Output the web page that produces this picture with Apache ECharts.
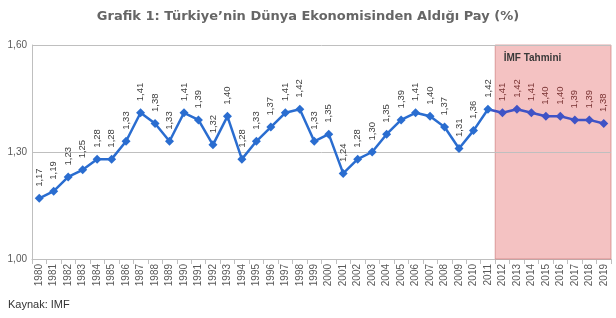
<!DOCTYPE html>
<html>
<head>
<meta charset="utf-8">
<script src="https://cdn.jsdelivr.net/npm/echarts@6/dist/echarts.min.js"></script>
<style>html,body{margin:0;padding:0;background:#fff}#c{width:616px;height:318px}</style>
</head>
<body>
<div id="c"></div>
<script>
var categories = ['1980','1981','1982','1983','1984','1985','1986','1987','1988','1989',
  '1990','1991','1992','1993','1994','1995','1996','1997','1998','1999',
  '2000','2001','2002','2003','2004','2005','2006','2007','2008','2009',
  '2010','2011','2012','2013','2014','2015','2016','2017','2018','2019'];
var actualValues = [1.17,1.19,1.23,1.25,1.28,1.28,1.33,1.41,1.38,1.33,
  1.41,1.39,1.32,1.40,1.28,1.33,1.37,1.41,1.42,1.33,
  1.35,1.24,1.28,1.30,1.35,1.39,1.41,1.40,1.37,1.31,
  1.36,1.42];
var forecastYears = ['2012','2013','2014','2015','2016','2017','2018','2019'];
var forecastValues = [1.41,1.42,1.41,1.40,1.40,1.39,1.39,1.38];
var yTicks = [1.00, 1.30, 1.60];
var titleText = 'Grafik 1: Türkiye’nin Dünya Ekonomisinden Aldığı Pay (%)';
var sourceText = 'Kaynak: IMF';
var forecastLabel = 'İMF Tahmini';

function fmt(v){ return Number(v).toFixed(2).replace('.', ','); }

var histData = categories.map(function(c, i){ return i < actualValues.length ? actualValues[i] : null; });
var fcStart = categories.indexOf(forecastYears[0]);
var fcData = categories.map(function(c, i){
  if (i === fcStart - 1) return { value: actualValues[i], symbol: 'none', label: { show: false } };
  var k = forecastYears.indexOf(c);
  return k >= 0 ? forecastValues[k] : null;
});

var chart = echarts.init(document.getElementById('c'), null, { renderer: 'canvas' });
chart.setOption({
  animation: false,
  textStyle: { fontFamily: 'Liberation Sans' },
  title: [
    { text: titleText, left: 'center', top: 10, padding: 0,
      textStyle: { fontFamily: 'DejaVu Sans', fontWeight: 'bold', fontSize: 13, color: '#666666' } },
    { text: sourceText, left: 8, top: 299, padding: 0,
      textStyle: { fontFamily: 'Liberation Sans', fontWeight: 'normal', fontSize: 11, color: '#333333' } }
  ],
  grid: { left: 32, right: 5, top: 45, bottom: 59, containLabel: false },
  xAxis: [
    { type: 'category', data: categories, boundaryGap: true,
      axisLine: { lineStyle: { color: '#bfbfbf', width: 1 } },
      axisTick: { show: true, alignWithLabel: false, length: 5, lineStyle: { color: '#bfbfbf' } },
      axisLabel: { rotate: 90, interval: 0, fontSize: 10, color: '#595959', margin: 5, fontFamily: 'Liberation Sans' },
      splitLine: { show: false } },
    { type: 'value', min: 0, max: categories.length, show: false }
  ],
  yAxis: {
    type: 'value', min: yTicks[0], max: yTicks[yTicks.length - 1], interval: 0.1,
    axisLine: { show: true, lineStyle: { color: '#bfbfbf' } },
    axisTick: { show: false },
    splitLine: { show: false },
    axisLabel: { fontSize: 10, color: '#595959', margin: 5,
      formatter: function(v){
        for (var i = 0; i < yTicks.length; i++) if (Math.abs(v - yTicks[i]) < 1e-6) return fmt(v);
        return '';
      } }
  },
  series: [
    { type: 'line', xAxisIndex: 1, data: [], silent: true,
      markArea: { silent: true,
        itemStyle: { color: 'rgba(233,133,133,0.5)', borderColor: 'rgba(200,110,110,0.6)', borderWidth: 1 },
        label: { show: true, position: 'insideTopLeft', distance: 9, formatter: forecastLabel,
          fontFamily: 'Liberation Sans', fontWeight: 'bold', fontSize: 10, color: '#3a3a3a' },
        data: [[{ xAxis: fcStart }, { xAxis: categories.length }]] } },
    { name: 'Gerçekleşen', type: 'line', data: histData, z: 5,
      symbol: 'diamond', symbolSize: 9, showAllSymbol: true,
      lineStyle: { color: '#2a6dd0', width: 2.5 },
      itemStyle: { color: '#2a6dd0' },
      label: { show: true, position: 'top', rotate: 90, align: 'left', verticalAlign: 'middle', distance: 7,
        fontSize: 9.5, color: '#404040', formatter: function(p){ return fmt(p.value); } },
      markLine: { silent: true, symbol: 'none', label: { show: false },
        lineStyle: { color: '#bfbfbf', type: 'solid', width: 1 },
        data: yTicks.slice(1).map(function(v){ return { yAxis: v }; }) } },
    { name: 'Tahmin', type: 'line', data: fcData, z: 5,
      symbol: 'diamond', symbolSize: 9, showAllSymbol: true,
      lineStyle: { color: '#3f53c6', width: 2.5 },
      itemStyle: { color: '#3f53c6' },
      label: { show: true, position: 'top', rotate: 90, align: 'left', verticalAlign: 'middle', distance: 7,
        fontSize: 9.5, color: '#7a3434', formatter: function(p){ return fmt(p.value); } } }
  ]
});
</script>
</body>
</html>
